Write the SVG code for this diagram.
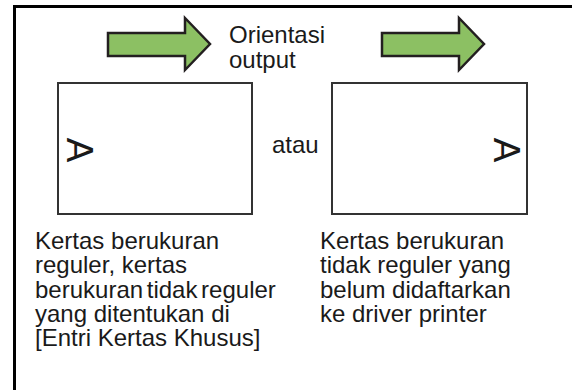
<svg xmlns="http://www.w3.org/2000/svg" width="572" height="390" viewBox="0 0 572 390">
<style>
.t{font-family:"Liberation Sans",Arial,sans-serif;font-size:24px;fill:#1a1a1a}
.arrow{fill:#8cc063;stroke:#231f20;stroke-width:2.5;stroke-linejoin:miter}
.paper{fill:#fff;stroke:#333;stroke-width:2}
.big{font-family:"Liberation Sans",Arial,sans-serif;font-size:37px;fill:#1a1a1a;text-anchor:middle}
</style>
<rect x="0" y="0" width="572" height="390" fill="#fff"/>
<rect id="frame" x="14.5" y="6.5" width="600" height="400" fill="none" stroke="#000" stroke-width="3"/>
<g id="arrow-left"><polygon class="arrow" points="108,33 185,33 185,18 210,44 185,70 185,56 108,56"/></g>
<g id="arrow-right"><polygon class="arrow" points="382,33 459,33 459,18 484,44 459,70 459,56 382,56"/></g>
<g id="label-orientasi"><text class="t" x="229" y="43">Orientasi</text><text class="t" x="229" y="68">output</text></g>
<g id="paper-left"><rect class="paper" x="58" y="83" width="194" height="131"/><text class="big" x="80" y="163" transform="rotate(90 80 150)">A</text></g>
<g id="label-atau"><text class="t" x="272" y="153">atau</text></g>
<g id="paper-right"><rect class="paper" x="332" y="83" width="195" height="131"/><text class="big" x="507" y="163" transform="rotate(90 507 150)">A</text></g>
<g id="caption-left"><text class="t" x="35" y="249">Kertas berukuran</text><text class="t" x="35" y="273">reguler, kertas</text><text class="t" x="35" y="298" word-spacing="-3">berukuran tidak reguler</text><text class="t" x="35" y="322">yang ditentukan di</text><text class="t" x="35" y="346">[Entri Kertas Khusus]</text></g>
<g id="caption-right"><text class="t" x="320" y="249">Kertas berukuran</text><text class="t" x="320" y="273">tidak reguler yang</text><text class="t" x="320" y="298">belum didaftarkan</text><text class="t" x="320" y="322">ke driver printer</text></g>
<g id="connectors"></g>
</svg>
